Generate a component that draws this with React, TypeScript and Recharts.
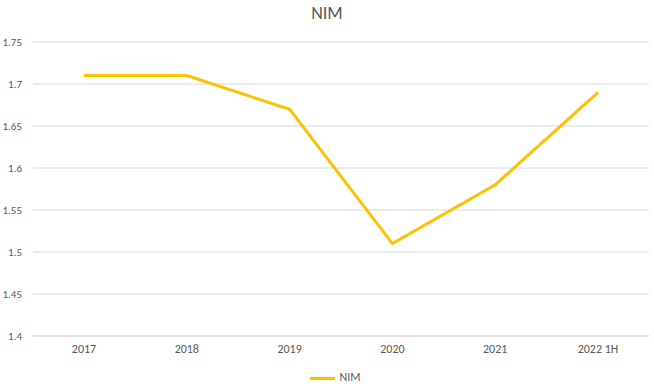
import { LineChart, Line, XAxis, YAxis, CartesianGrid, Legend } from 'recharts';

const years = ['2017', '2018', '2019', '2020', '2021', '2022 1H'];
const nimValues = [1.71, 1.71, 1.67, 1.51, 1.58, 1.69];
const yTicks = [1.4, 1.45, 1.5, 1.55, 1.6, 1.65, 1.7, 1.75];

const data = years.map((year, i) => ({ year, NIM: nimValues[i] }));

const FONT = 'Carlito, Calibri, "Open Sans", sans-serif';
const GREY = '#595959';

export default function App() {
    return (
        <div style={{ position: 'absolute', left: 0, top: 0, width: 654, height: 391, background: '#fff', fontFamily: FONT }}>
            {/* title */}
            <div style={{ position: 'absolute', top: 2, width: '100%', textAlign: 'center', fontSize: 18, color: GREY }}>
                NIM
            </div>
            <LineChart width={654} height={391} data={data} margin={{ top: 42, right: 5, bottom: 0, left: 0 }}>
                <CartesianGrid vertical={false} stroke="#d9d9d9" />
                <XAxis
                    dataKey="year"
                    padding={{ left: 51, right: 51 }}
                    tickLine={false}
                    axisLine={{ stroke: '#d9d9d9' }}
                    tick={{ fill: GREY, fontSize: 12, fontFamily: FONT }}
                />
                <YAxis
                    width={33}
                    domain={[1.4, 1.75]}
                    ticks={yTicks}
                    tickLine={false}
                    axisLine={false}
                    tick={{ fill: GREY, fontSize: 11, fontFamily: FONT, dx: -3 }}
                />
                <Legend
                    verticalAlign="bottom"
                    iconType="plainline"
                    iconSize={25}
                    formatter={(value) => <span style={{ color: GREY }}>{value}</span>}
                    wrapperStyle={{ fontSize: 12, fontFamily: FONT, paddingLeft: 16 }}
                />
                <Line
                    type="linear"
                    dataKey="NIM"
                    stroke="#FFC000"
                    strokeWidth={3}
                    dot={false}
                    isAnimationActive={false}
                />
            </LineChart>
        </div>
    );
}
